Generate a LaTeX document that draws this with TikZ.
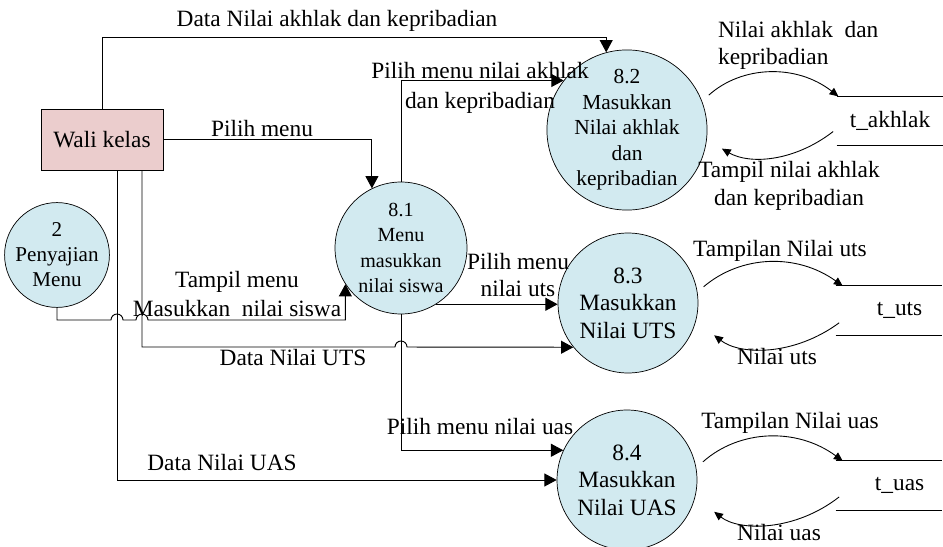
\documentclass[tikz,border=0pt]{standalone}
\usepackage{fontspec}
\setmainfont{Liberation Serif}
\usetikzlibrary{arrows.meta}
\definecolor{procblue}{RGB}{210,234,240}
\definecolor{entpink}{RGB}{235,205,205}

\begin{document}
\begin{tikzpicture}[x=0.02cm,y=-0.02cm,>={Triangle[length=7pt,width=7.4pt]},
  flow/.style={->,line width=0.55pt},
  sflow/.style={-{Triangle[length=5pt,width=4.5pt]},line width=0.5pt},
  proc/.style={circle,draw,fill=procblue,align=center,inner sep=0pt},
  entity/.style={draw,fill=entpink,minimum width=2.44cm,minimum height=1.22cm,font=\fontsize{13.3}{15}\selectfont},
  store/.style={minimum width=2.12cm,minimum height=0.97cm,inner sep=0pt,font=\fontsize{13.3}{15}\selectfont},
  lbl/.style={align=center,inner sep=1pt,font=\fontsize{13.3}{15.5}\selectfont}]
\useasboundingbox (0,0) rectangle (943,547);

% entity, processes and stores
\node[entity] (wali) at (102,139.5) {Wali kelas};
\node[proc,minimum size=1.96cm,font=\fontsize{12}{14.2}\selectfont] (p2) at (57,255) {2\\Penyajian\\Menu};
\node[proc,minimum size=2.64cm,font=\fontsize{11.4}{14.4}\selectfont] (p81) at (401,248) {8.1\\Menu\\masukkan\\nilai siswa};
\node[proc,minimum size=2.72cm,font=\fontsize{12.2}{14.5}\selectfont] (p82) at (627,130) {8.2\\Masukkan\\Nilai akhlak\\dan\\kepribadian};
\node[proc,minimum size=2.8cm,font=\fontsize{13.3}{15.6}\selectfont] (p83) at (628,303) {8.3\\Masukkan\\Nilai UTS};
\node[proc,minimum size=2.8cm,font=\fontsize{13.3}{15.6}\selectfont] (p84) at (627,480) {8.4\\Masukkan\\Nilai UAS};
\node[store] (sak) at (890,121) {t\_akhlak};
\node[store] (suts) at (889,310.5) {\hspace{12pt}t\_uts};
\node[store] (suas) at (889,485.5) {\hspace{12pt}t\_uas};
\foreach \s in {sak,suts,suas}
  \draw[line width=0.6pt] (\s.north west) -- (\s.north east) (\s.south west) -- (\s.south east);

% flows from the left
\draw[flow] (wali.north) -- (wali.north |- 0,37) -| (p82.105);
\draw[flow] (wali.east) -| (p81.116);
\draw[flow] (p81.north) |- (p82.142);
\draw[flow] (p81.-58) -- (p81.-58 -| p83.west);
\draw[flow] (p81.south) |- (p84.155);
\draw[flow] (p2.south) |- (111,320) arc[start angle=180,end angle=360,radius=6]
  -- (136,320) arc[start angle=180,end angle=360,radius=6] -| (p81.213);
\draw[flow] (142,0 |- wali.south) |- (395,347) arc[start angle=180,end angle=360,radius=6] -- (p83.219);
\draw[flow] (117,0 |- wali.south) |- (p84.west);

% flows to and from the stores
\draw[sflow,shorten <=0.18cm] (p82.21) to[bend left=40] ([xshift=1pt]sak.north west);
\draw[sflow,shorten >=0.35cm] ([xshift=-2pt,yshift=-6pt]sak.west) to[bend left=34] (p82.-7);
\draw[sflow,shorten <=0.16cm] (p83.9) to[bend left=38] ([xshift=4pt]suts.north west);
\draw[sflow,shorten >=0.46cm] ([xshift=2pt,yshift=-7pt]suts.west) to[bend left=37] (p83.-15);
\draw[sflow,shorten <=0.18cm] (p84.10) to[bend left=39] ([xshift=4pt]suas.north west);
\draw[sflow,shorten >=0.48cm] ([xshift=2pt,yshift=-6.5pt]suas.west) to[bend left=38] (p84.-14);

% labels
\node[lbl] (ldak) at (337,21) {Data Nilai akhlak dan kepribadian};
\node[lbl] (lpm) at (262,129) {Pilih menu};
\node[lbl,font=\fontsize{13.3}{17}\selectfont] (lpak) at (480,88) {Pilih menu nilai akhlak\\dan kepribadian};
\node[lbl] (lput) at (518,275) {Pilih menu\\nilai uts};
\node[lbl,font=\fontsize{13.3}{16}\selectfont] (ltm) at (237,294) {Tampil menu\\Masukkan\ \ nilai siswa};
\node[lbl] (lduts) at (293,358) {Data Nilai UTS};
\node[lbl] (lpua) at (480,427) {Pilih menu nilai uas};
\node[lbl] (lduas) at (222,463) {Data Nilai UAS};
\node[lbl,align=left,anchor=west] (lnak) at (716,45) {Nilai akhlak\ \ dan\\kepribadian};
\node[lbl,font=\fontsize{13.3}{16}\selectfont] (ltak) at (789,186) {Tampil nilai akhlak\\dan kepribadian};
\node[lbl] (ltu) at (780,251) {Tampilan Nilai uts};
\node[lbl] (lnu) at (777,357) {Nilai uts};
\node[lbl] (lta) at (790,423) {Tampilan Nilai uas};
\node[lbl] (lna) at (779,533) {Nilai uas};
\end{tikzpicture}
\end{document}
